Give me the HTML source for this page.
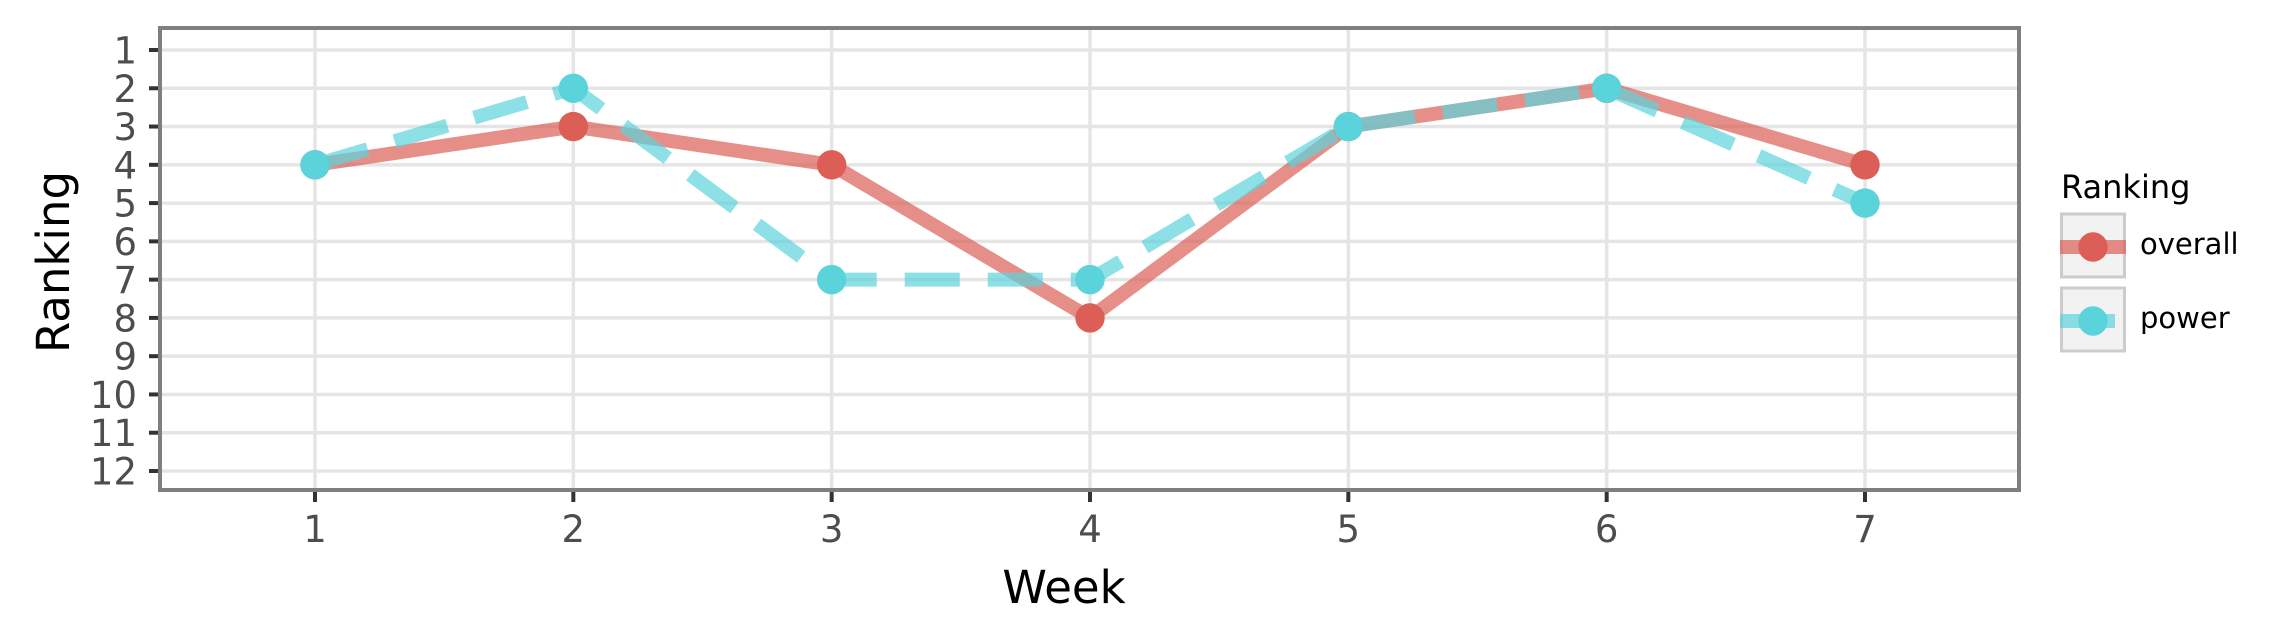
<!DOCTYPE html>
<html><head><meta charset="utf-8"><style>
html,body{margin:0;padding:0;background:#fff;}
svg{display:block;font-family:"DejaVu Sans","Liberation Sans",sans-serif;}
</style></head><body>
<svg id="chart" width="2276" height="642" viewBox="0 0 2276 642" xmlns="http://www.w3.org/2000/svg"></svg>
<script>
const weeks = [1,2,3,4,5,6,7];
const overall = [4,3,4,8,3,2,4];
const power = [4,2,7,7,3,2,5];
const yTicks = [1,2,3,4,5,6,7,8,9,10,11,12];
const seriesNames = ["overall","power"];

const NS="http://www.w3.org/2000/svg";
const svg=document.getElementById('chart');
const P={l:160,r:2019,t:28,b:490};
const xs=w=>315+(w-1)*(1865-315)/6;
const ys=v=>50+(v-1)*(471-50)/11;
function mk(tag,attrs,parent){const e=document.createElementNS(NS,tag);for(const k in attrs)e.setAttribute(k,attrs[k]);(parent||svg).appendChild(e);return e;}

const grid=mk('g',{});


yTicks.forEach(v=>{const l=mk('line',{x1:P.l,x2:P.r,y1:ys(v),y2:ys(v),stroke:'#e5e5e5','stroke-width':3.5},grid);

});
weeks.forEach(w=>{const l=mk('line',{x1:xs(w),x2:xs(w),y1:P.t,y2:P.b,stroke:'#e5e5e5','stroke-width':3.5},grid);

});

yTicks.forEach(v=>{
  const t=mk('line',{x1:P.l-11,x2:P.l,y1:ys(v),y2:ys(v),stroke:'#333','stroke-width':4});
  
  
  const tx=mk('text',{x:137,y:ys(v)+13.5,'text-anchor':'end','font-size':37,fill:'#4d4d4d'});
  tx.textContent=v;
  
  
});
weeks.forEach(w=>{
  const t=mk('line',{x1:xs(w),x2:xs(w),y1:P.b,y2:P.b+12,stroke:'#333','stroke-width':4});
  
  
  const tx=mk('text',{x:xs(w),y:542,'text-anchor':'middle','font-size':37,fill:'#4d4d4d'});
  tx.textContent=w;
  
  
});

function pts(arr){return arr.map((v,i)=>xs(weeks[i])+','+ys(v)).join(' ');}
const lo=mk('polyline',{points:pts(overall),fill:'none',stroke:'#db5f57','stroke-opacity':0.7,'stroke-width':14});


const lp=mk('polyline',{points:pts(power),fill:'none',stroke:'#5bd3db','stroke-opacity':0.7,'stroke-width':14,'stroke-dasharray':'55 28'});


overall.forEach((v,i)=>{const c=mk('circle',{cx:xs(weeks[i]),cy:ys(v),r:14.7,fill:'#db5f57'});

});
power.forEach((v,i)=>{const c=mk('circle',{cx:xs(weeks[i]),cy:ys(v),r:14.7,fill:'#5bd3db'});

});

const border=mk('rect',{x:P.l,y:P.t,width:P.r-P.l,height:P.b-P.t,fill:'none',stroke:'#7f7f7f','stroke-width':4});



const xt=mk('text',{x:1064,y:603,'text-anchor':'middle','font-size':45,fill:'#000'});
xt.textContent='Week';


const yt=mk('text',{x:0,y:0,'text-anchor':'middle','font-size':45,fill:'#000',transform:'translate(69,262) rotate(-90)'});
yt.textContent='Ranking';



const lg=mk('g',{});


const lt=mk('text',{x:2061,y:198,'font-size':32,fill:'#000'},lg);
lt.textContent='Ranking';


const colors=['#db5f57','#5bd3db'];
seriesNames.forEach((n,i)=>{
  const by=214+i*74;
  const g=mk('g',{},lg);
  
  
  mk('rect',{x:2061.5,y:by,width:63,height:63,fill:'#f2f2f2',stroke:'#cccccc','stroke-width':3},g);
  mk('line',{x1:2060,x2:i==0?2126:2115,y1:by+33,y2:by+33,stroke:colors[i],'stroke-opacity':0.7,'stroke-width':14},g);
  mk('circle',{cx:2093,cy:by+33,r:14.7,fill:colors[i]},g);
  const t=mk('text',{x:2140,y:by+40,'font-size':29,fill:'#000'},g);
  t.textContent=n;
  
  
});
</script>
</body></html>
